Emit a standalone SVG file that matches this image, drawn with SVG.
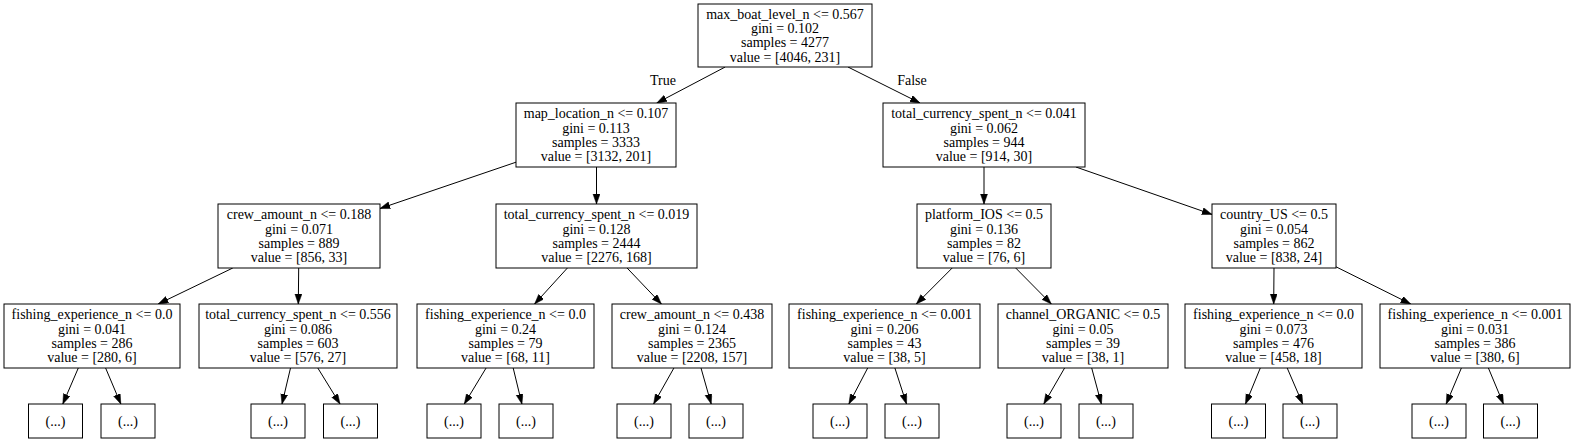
<svg xmlns="http://www.w3.org/2000/svg" width="1574" height="444" viewBox="0 0 1574 444">
<style>
.node rect{fill:#fff;stroke:#000;stroke-width:1}
text{font-family:"Liberation Serif","Times New Roman",serif;font-size:14px;fill:#000;text-anchor:middle}
.edges line{stroke:#000;stroke-width:1;marker-end:url(#ah)}
</style>
<defs>
<marker id="ah" markerUnits="userSpaceOnUse" markerWidth="11" markerHeight="8" refX="10" refY="3.5" orient="auto" viewBox="0 0 11 8">
<path d="M0,0 L10,3.5 L0,7 z" fill="#000" stroke="#000" stroke-width="0.5"/>
</marker>
</defs>
<rect x="0" y="0" width="1574" height="444" fill="#fff"/>
<g class="edges" id="edges">
<line x1="725.2" y1="67" x2="656.8" y2="103"/>
<line x1="848" y1="67" x2="920" y2="103"/>
<line x1="516" y1="162.2" x2="380" y2="208.5"/>
<line x1="596.5" y1="167" x2="596.5" y2="204"/>
<line x1="984" y1="167" x2="984" y2="204"/>
<line x1="1075.9" y1="167" x2="1212" y2="214.4"/>
<line x1="232.8" y1="268" x2="158.2" y2="304"/>
<line x1="298.7" y1="268" x2="298.3" y2="304"/>
<line x1="567.4" y1="268" x2="534.6" y2="304"/>
<line x1="627.1" y1="268" x2="661.4" y2="304"/>
<line x1="952.2" y1="268" x2="916.3" y2="304"/>
<line x1="1015.7" y1="268" x2="1051.3" y2="304"/>
<line x1="1274" y1="268" x2="1273.7" y2="304"/>
<line x1="1336" y1="266.8" x2="1410.7" y2="304"/>
<line x1="78.3" y1="368" x2="62.8" y2="404"/>
<line x1="105.6" y1="368" x2="120.8" y2="404"/>
<line x1="290.5" y1="368" x2="282" y2="404"/>
<line x1="317.8" y1="368" x2="340" y2="404"/>
<line x1="486.1" y1="368" x2="464.3" y2="404"/>
<line x1="513.2" y1="368" x2="521.9" y2="404"/>
<line x1="673.9" y1="368" x2="653.6" y2="404"/>
<line x1="701" y1="368" x2="711.2" y2="404"/>
<line x1="867.7" y1="368" x2="848.9" y2="404"/>
<line x1="894.9" y1="368" x2="906.5" y2="404"/>
<line x1="1064.6" y1="368" x2="1043.8" y2="404"/>
<line x1="1091.7" y1="368" x2="1101.4" y2="404"/>
<line x1="1260.3" y1="368" x2="1245.5" y2="404"/>
<line x1="1287.2" y1="368" x2="1302.7" y2="404"/>
<line x1="1461.4" y1="368" x2="1446.2" y2="404"/>
<line x1="1488.4" y1="368" x2="1503.4" y2="404"/>
<text x="663" y="84.5">True</text>
<text x="912" y="84.5">False</text>
</g>
<g class="node" id="n0"><rect x="698" y="4" width="174" height="63"/>
<text x="785" y="19">max_boat_level_n &lt;= 0.567</text><text x="785" y="33.2">gini = 0.102</text><text x="785" y="47.4">samples = 4277</text><text x="785" y="61.6">value = [4046, 231]</text></g>
<g class="node" id="n1"><rect x="516" y="103" width="160" height="64"/>
<text x="596" y="118.3">map_location_n &lt;= 0.107</text><text x="596" y="132.5">gini = 0.113</text><text x="596" y="146.7">samples = 3333</text><text x="596" y="160.9">value = [3132, 201]</text></g>
<g class="node" id="n2"><rect x="883" y="103" width="202" height="64"/>
<text x="984" y="118.3">total_currency_spent_n &lt;= 0.041</text><text x="984" y="132.5">gini = 0.062</text><text x="984" y="146.7">samples = 944</text><text x="984" y="160.9">value = [914, 30]</text></g>
<g class="node" id="n3"><rect x="218" y="204" width="162" height="64"/>
<text x="299" y="219.3">crew_amount_n &lt;= 0.188</text><text x="299" y="233.5">gini = 0.071</text><text x="299" y="247.7">samples = 889</text><text x="299" y="261.9">value = [856, 33]</text></g>
<g class="node" id="n4"><rect x="496" y="204" width="201" height="64"/>
<text x="596.5" y="219.3">total_currency_spent_n &lt;= 0.019</text><text x="596.5" y="233.5">gini = 0.128</text><text x="596.5" y="247.7">samples = 2444</text><text x="596.5" y="261.9">value = [2276, 168]</text></g>
<g class="node" id="n5"><rect x="917" y="204" width="134" height="64"/>
<text x="984" y="219.3">platform_IOS &lt;= 0.5</text><text x="984" y="233.5">gini = 0.136</text><text x="984" y="247.7">samples = 82</text><text x="984" y="261.9">value = [76, 6]</text></g>
<g class="node" id="n6"><rect x="1212" y="204" width="124" height="64"/>
<text x="1274" y="219.3">country_US &lt;= 0.5</text><text x="1274" y="233.5">gini = 0.054</text><text x="1274" y="247.7">samples = 862</text><text x="1274" y="261.9">value = [838, 24]</text></g>
<g class="node" id="n7"><rect x="4" y="304" width="176" height="64"/>
<text x="92" y="319.3">fishing_experience_n &lt;= 0.0</text><text x="92" y="333.5">gini = 0.041</text><text x="92" y="347.7">samples = 286</text><text x="92" y="361.9">value = [280, 6]</text></g>
<g class="node" id="n8"><rect x="199" y="304" width="198" height="64"/>
<text x="298" y="319.3">total_currency_spent_n &lt;= 0.556</text><text x="298" y="333.5">gini = 0.086</text><text x="298" y="347.7">samples = 603</text><text x="298" y="361.9">value = [576, 27]</text></g>
<g class="node" id="n9"><rect x="417" y="304" width="177" height="64"/>
<text x="505.5" y="319.3">fishing_experience_n &lt;= 0.0</text><text x="505.5" y="333.5">gini = 0.24</text><text x="505.5" y="347.7">samples = 79</text><text x="505.5" y="361.9">value = [68, 11]</text></g>
<g class="node" id="n10"><rect x="612" y="304" width="160" height="64"/>
<text x="692" y="319.3">crew_amount_n &lt;= 0.438</text><text x="692" y="333.5">gini = 0.124</text><text x="692" y="347.7">samples = 2365</text><text x="692" y="361.9">value = [2208, 157]</text></g>
<g class="node" id="n11"><rect x="789" y="304" width="191" height="64"/>
<text x="884.5" y="319.3">fishing_experience_n &lt;= 0.001</text><text x="884.5" y="333.5">gini = 0.206</text><text x="884.5" y="347.7">samples = 43</text><text x="884.5" y="361.9">value = [38, 5]</text></g>
<g class="node" id="n12"><rect x="998" y="304" width="170" height="64"/>
<text x="1083" y="319.3">channel_ORGANIC &lt;= 0.5</text><text x="1083" y="333.5">gini = 0.05</text><text x="1083" y="347.7">samples = 39</text><text x="1083" y="361.9">value = [38, 1]</text></g>
<g class="node" id="n13"><rect x="1185" y="304" width="177" height="64"/>
<text x="1273.5" y="319.3">fishing_experience_n &lt;= 0.0</text><text x="1273.5" y="333.5">gini = 0.073</text><text x="1273.5" y="347.7">samples = 476</text><text x="1273.5" y="361.9">value = [458, 18]</text></g>
<g class="node" id="n14"><rect x="1380" y="304" width="190" height="64"/>
<text x="1475" y="319.3">fishing_experience_n &lt;= 0.001</text><text x="1475" y="333.5">gini = 0.031</text><text x="1475" y="347.7">samples = 386</text><text x="1475" y="361.9">value = [380, 6]</text></g>
<g class="node" id="l1"><rect x="28.5" y="404" width="54" height="34"/><text x="55.5" y="426">(...)</text></g>
<g class="node" id="l2"><rect x="101" y="404" width="54" height="34"/><text x="128" y="426">(...)</text></g>
<g class="node" id="l3"><rect x="251" y="404" width="54" height="34"/><text x="278" y="426">(...)</text></g>
<g class="node" id="l4"><rect x="323.5" y="404" width="54" height="34"/><text x="350.5" y="426">(...)</text></g>
<g class="node" id="l5"><rect x="427" y="404" width="54" height="34"/><text x="454" y="426">(...)</text></g>
<g class="node" id="l6"><rect x="499" y="404" width="54" height="34"/><text x="526" y="426">(...)</text></g>
<g class="node" id="l7"><rect x="617" y="404" width="54" height="34"/><text x="644" y="426">(...)</text></g>
<g class="node" id="l8"><rect x="689" y="404" width="54" height="34"/><text x="716" y="426">(...)</text></g>
<g class="node" id="l9"><rect x="813" y="404" width="54" height="34"/><text x="840" y="426">(...)</text></g>
<g class="node" id="l10"><rect x="885" y="404" width="54" height="34"/><text x="912" y="426">(...)</text></g>
<g class="node" id="l11"><rect x="1007" y="404" width="54" height="34"/><text x="1034" y="426">(...)</text></g>
<g class="node" id="l12"><rect x="1079" y="404" width="54" height="34"/><text x="1106" y="426">(...)</text></g>
<g class="node" id="l13"><rect x="1211.5" y="404" width="54" height="34"/><text x="1238.5" y="426">(...)</text></g>
<g class="node" id="l14"><rect x="1283" y="404" width="54" height="34"/><text x="1310" y="426">(...)</text></g>
<g class="node" id="l15"><rect x="1412" y="404" width="54" height="34"/><text x="1439" y="426">(...)</text></g>
<g class="node" id="l16"><rect x="1483.5" y="404" width="54" height="34"/><text x="1510.5" y="426">(...)</text></g>
</svg>
